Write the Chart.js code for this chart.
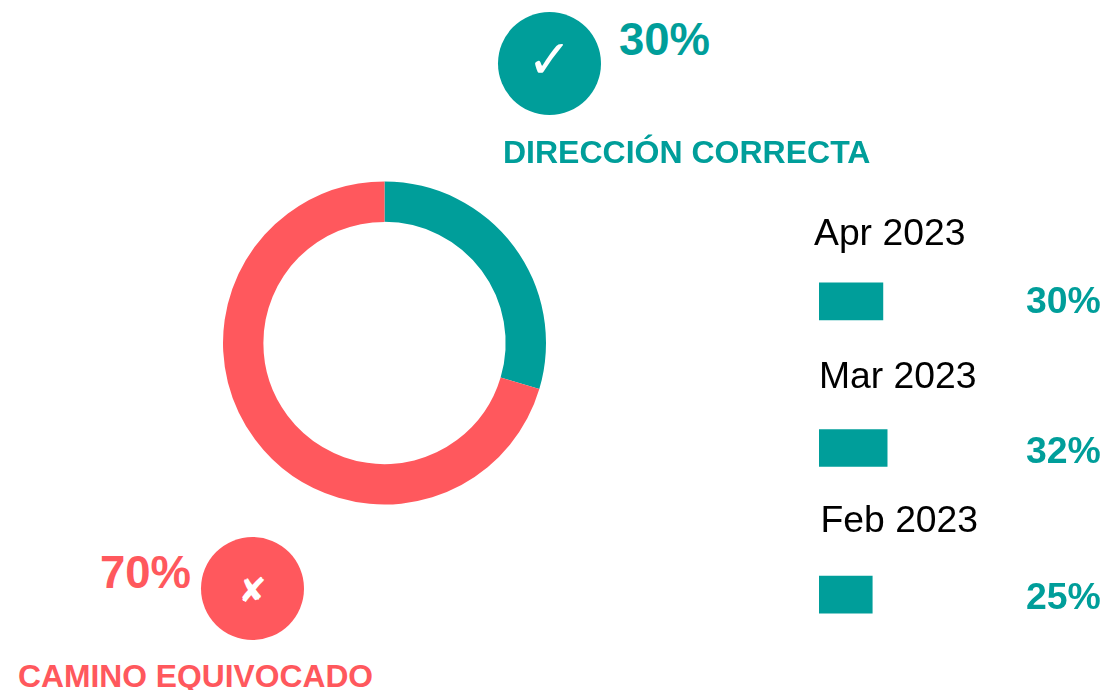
<!DOCTYPE html>
<html>
<head>
<meta charset="utf-8">
<title>Dirección correcta</title>
<script src="https://cdn.jsdelivr.net/npm/chart.js@4/dist/chart.umd.min.js"></script>
<style>
    html, body { margin: 0; padding: 0; background: #fff; }
    body { position: relative; width: 1107px; height: 690px; overflow: hidden; font-family: "Liberation Sans", Arial, sans-serif; }
    canvas { position: absolute; }
    .txt { position: absolute; white-space: nowrap; line-height: 1; }
    .teal { color: #009e9a; font-weight: bold; }
    .red { color: #ff585d; font-weight: bold; }
    .circle { position: absolute; width: 103px; height: 103px; border-radius: 50%; color: #fff; text-align: center; font-family: "DejaVu Sans", sans-serif; }
</style>
</head>
<body>
<canvas id="donut" style="left:204px;top:163px"></canvas>
<canvas id="bars" style="left:818px;top:228px"></canvas>

<div class="circle" style="left:498px;top:12px;background:#009e9a;font-size:54px;line-height:96px">✓</div>
<div class="circle" style="left:201px;top:537px;background:#ff585d;font-size:34px;line-height:106px">✘</div>

<div class="txt teal" style="left:619px;top:17px;font-size:45.5px">30%</div>
<div class="txt red" style="left:100px;top:550px;font-size:45.5px">70%</div>
<div class="txt teal" style="left:503px;top:136px;font-size:32px">DIRECCIÓN CORRECTA</div>
<div class="txt red" style="left:18px;top:661px;font-size:31.8px">CAMINO EQUIVOCADO</div>

<div id="labels"></div>

<script>
var donutLabels = ['Dirección correcta', 'Camino equivocado'];
var donutValues = [29.6, 70.4];
var months = ['Apr 2023', 'Mar 2023', 'Feb 2023'];
var monthValues = [30, 32, 25];

var TEAL = '#009e9a';
var RED = '#ff585d';

// Month captions are not quite aligned in the original
var monthLeft = [814, 819, 820.5];
var monthTop = [214, 357, 501];
var valueTop = [282, 432, 578];

Chart.defaults.animation = false;
Chart.defaults.responsive = false;
Chart.defaults.plugins.legend.display = false;
Chart.defaults.plugins.tooltip.enabled = false;

var donutEl = document.getElementById('donut');
donutEl.width = 361;
donutEl.height = 360;

new Chart(donutEl.getContext('2d'), {
    type: 'doughnut',
    data: {
        labels: donutLabels,
        datasets: [{
            data: donutValues,
            backgroundColor: [TEAL, RED],
            borderWidth: 0
        }]
    },
    options: {
        cutout: '75%',
        layout: { padding: 18.5 }
    }
});

var barsEl = document.getElementById('bars');
barsEl.width = 214;
barsEl.height = 440;

new Chart(barsEl.getContext('2d'), {
    type: 'bar',
    data: {
        labels: months,
        datasets: [{
            data: monthValues,
            backgroundColor: TEAL,
            barThickness: 37
        }]
    },
    options: {
        indexAxis: 'y',
        layout: { padding: { left: 1 } },
        scales: {
            x: { display: false, min: 0, max: 100 },
            y: { display: false }
        }
    }
});

var labelsEl = document.getElementById('labels');
months.forEach(function(month, i) {
    var cap = document.createElement('div');
    cap.className = 'txt';
    cap.style.cssText = 'left:' + monthLeft[i] + 'px;top:' + monthTop[i] + 'px;font-size:37.3px;color:#000';
    cap.textContent = month;
    labelsEl.appendChild(cap);

    var val = document.createElement('div');
    val.className = 'txt teal';
    val.style.cssText = 'left:1026px;top:' + valueTop[i] + 'px;font-size:37.4px';
    val.textContent = monthValues[i] + '%';
    labelsEl.appendChild(val);
});
</script>
</body>
</html>
